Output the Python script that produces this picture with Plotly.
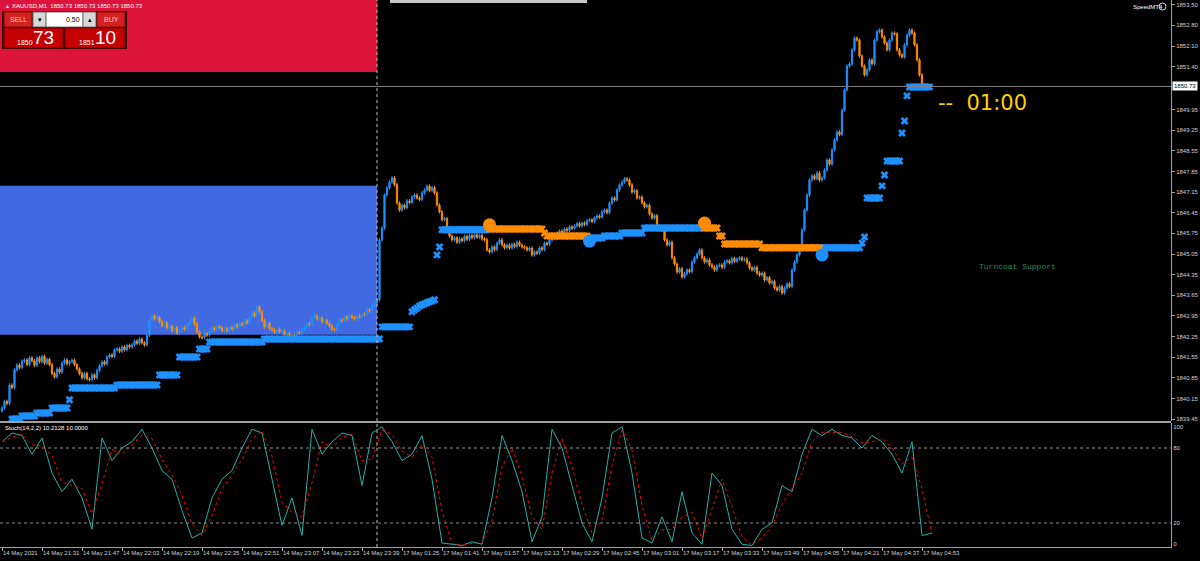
import plotly.graph_objects as go

# ---------------- data ----------------
close = [
 1839.83, 1840.05, 1839.98, 1840.61, 1840.52, 1841.12, 1841.29, 1841.20, 1841.42, 1841.46,
 1841.30, 1841.53, 1841.43, 1841.28, 1841.53, 1841.40, 1841.58, 1841.35, 1841.48, 1841.30,
 1841.00, 1840.88, 1841.15, 1841.05, 1841.35, 1841.46, 1841.33, 1841.40, 1841.45, 1841.30,
 1841.15, 1841.00, 1840.85, 1841.00, 1840.82, 1840.79, 1840.95, 1840.85, 1841.10, 1841.26,
 1841.39, 1841.32, 1841.56, 1841.63, 1841.58, 1841.80, 1841.83, 1841.75, 1841.90, 1841.80,
 1841.95, 1841.90, 1841.97, 1842.10, 1842.02, 1842.17, 1842.04, 1841.97, 1842.30, 1842.80,
 1842.95, 1842.85, 1842.90, 1842.75, 1842.62, 1842.72, 1842.55, 1842.60, 1842.45, 1842.55,
 1842.38, 1842.45, 1842.55, 1842.50, 1842.65, 1842.75, 1842.88, 1842.68, 1842.41, 1842.24,
 1842.21, 1842.35, 1842.30, 1842.44, 1842.55, 1842.48, 1842.60, 1842.55, 1842.45, 1842.52,
 1842.45, 1842.55, 1842.50, 1842.65, 1842.58, 1842.70, 1842.65, 1842.78, 1842.71, 1842.90,
 1843.05, 1842.95, 1843.26, 1843.09, 1842.80, 1842.58, 1842.70, 1842.52, 1842.48, 1842.40,
 1842.50, 1842.41, 1842.45, 1842.30, 1842.36, 1842.21, 1842.30, 1842.27, 1842.40, 1842.36,
 1842.50, 1842.58, 1842.70, 1842.65, 1842.90, 1842.95, 1842.85, 1842.88, 1842.75, 1842.80,
 1842.70, 1842.61, 1842.50, 1842.48, 1842.65, 1842.82, 1842.78, 1842.92, 1842.85, 1842.95,
 1842.90, 1842.85, 1842.95, 1842.92, 1843.02, 1843.00, 1843.16, 1843.12, 1843.29, 1843.39,
 1843.50, 1845.53, 1845.93, 1847.05, 1847.29, 1847.49, 1847.63, 1847.40, 1846.78, 1846.54,
 1846.70, 1846.62, 1846.85, 1846.80, 1846.98, 1847.05, 1846.95, 1846.90, 1847.12, 1847.22,
 1847.35, 1847.20, 1847.30, 1847.12, 1846.71, 1846.48, 1846.21, 1846.25, 1845.93, 1845.66,
 1845.53, 1845.60, 1845.45, 1845.56, 1845.50, 1845.65, 1845.55, 1845.68, 1845.60, 1845.70,
 1845.62, 1845.68, 1845.56, 1845.53, 1845.19, 1845.12, 1845.29, 1845.20, 1845.42, 1845.53,
 1845.36, 1845.26, 1845.35, 1845.25, 1845.38, 1845.30, 1845.45, 1845.35, 1845.29, 1845.26,
 1845.19, 1845.25, 1845.02, 1845.12, 1845.08, 1845.26, 1845.20, 1845.42, 1845.38, 1845.53,
 1845.63, 1845.58, 1845.76, 1845.83, 1845.78, 1845.90, 1845.85, 1845.97, 1845.92, 1846.00,
 1846.08, 1846.00, 1846.10, 1846.05, 1846.18, 1846.21, 1846.15, 1846.27, 1846.34, 1846.30,
 1846.48, 1846.54, 1846.45, 1846.78, 1846.95, 1846.88, 1847.22, 1847.39, 1847.49, 1847.60,
 1847.56, 1847.39, 1847.15, 1847.20, 1846.95, 1846.98, 1846.78, 1846.65, 1846.70, 1846.41,
 1846.27, 1846.35, 1846.00, 1845.87, 1845.95, 1845.53, 1845.36, 1845.45, 1844.92, 1844.71,
 1844.44, 1844.55, 1844.27, 1844.38, 1844.51, 1844.45, 1844.78, 1844.92, 1845.05, 1845.19,
 1844.92, 1844.78, 1844.85, 1844.68, 1844.61, 1844.51, 1844.65, 1844.68, 1844.60, 1844.78,
 1844.82, 1844.75, 1844.90, 1844.80, 1844.88, 1844.92, 1844.85, 1844.88, 1844.75, 1844.58,
 1844.51, 1844.60, 1844.41, 1844.34, 1844.40, 1844.17, 1844.25, 1844.07, 1844.12, 1843.90,
 1843.83, 1843.95, 1843.73, 1843.90, 1844.04, 1843.95, 1844.51, 1844.78, 1845.02, 1845.19,
 1845.87, 1846.54, 1847.05, 1847.56, 1847.70, 1847.60, 1847.80, 1847.56, 1847.63, 1847.90,
 1848.24, 1848.10, 1848.58, 1848.92, 1849.19, 1849.10, 1849.93, 1850.61, 1851.42, 1851.49,
 1851.97, 1852.37, 1852.30, 1851.76, 1851.42, 1851.12, 1851.29, 1851.63, 1851.50, 1852.30,
 1852.58, 1852.64, 1852.41, 1852.20, 1851.97, 1852.30, 1852.54, 1852.51, 1851.97, 1851.80,
 1851.73, 1852.14, 1852.47, 1852.64, 1852.54, 1852.14, 1851.63, 1851.12, 1850.78, 1850.71,
 1850.75, 1850.73,
]

# trailing-stop levels: (first bar, last bar, price)
blue_stop = [
 (4, 7, 1839.46), (8, 13, 1839.56), (14, 19, 1839.66), (20, 26, 1839.83), (27, 27, 1840.11),
 (28, 45, 1840.51), (46, 62, 1840.61), (63, 70, 1840.95), (71, 78, 1841.56), (79, 82, 1841.83),
 (83, 104, 1842.07), (105, 151, 1842.17), (152, 163, 1842.58),
 (164, 164, 1843.09), (165, 165, 1843.16), (166, 166, 1843.22), (167, 167, 1843.29),
 (168, 168, 1843.33), (169, 169, 1843.36), (170, 170, 1843.40), (171, 171, 1843.43),
 (172, 172, 1843.46), (173, 173, 1843.50), (174, 174, 1845.02), (175, 175, 1845.29),
 (176, 194, 1845.87),
 (235, 240, 1845.59), (241, 247, 1845.66), (248, 256, 1845.76), (257, 280, 1845.93),
 (328, 343, 1845.26), (344, 344, 1845.42), (345, 345, 1845.63), (346, 351, 1846.95),
 (352, 352, 1847.36), (353, 353, 1847.73), (354, 359, 1848.20), (360, 360, 1849.15),
 (361, 361, 1849.56), (362, 362, 1850.41), (363, 371, 1850.71),
]
orange_stop = [
 (195, 216, 1845.90), (217, 217, 1845.76), (218, 234, 1845.66),
 (281, 286, 1845.93), (287, 288, 1845.66), (289, 303, 1845.39), (304, 327, 1845.26),
]
flip_bars = [195, 235, 281, 328]
flip_price = [1846.04, 1845.49, 1846.10, 1845.02]
flip_side = ["sell", "buy", "sell", "buy"]

# Stochastic main line, sampled every 4 bars
stoch_main = [
 85, 92, 90, 75, 88, 60, 45, 55, 40, 15,
 88, 70, 80, 85, 95, 80, 62, 55, 30, 8,
 12, 40, 55, 62, 80, 95, 92, 55, 18, 40,
 10, 95, 75, 85, 92, 90, 50, 92, 97, 85,
 70, 75, 90, 55, 4, 3, 2, 5, 3, 40,
 90, 70, 45, 5, 25, 95, 80, 50, 20, 5,
 40, 92, 97, 60, 8, 4, 25, 5, 45, 12,
 3, 60, 50, 15, 3, 2, 15, 20, 50, 45,
 75, 95, 90, 95, 90, 88, 80, 90, 85, 75,
 60, 85, 10, 12,
]
STOCH_STEP = 4

time_labels = [
 "14 May 2021", "14 May 21:31", "14 May 21:47", "14 May 22:03", "14 May 22:19",
 "14 May 22:35", "14 May 22:51", "14 May 23:07", "14 May 23:23", "14 May 23:39",
 "17 May 01:25", "17 May 01:41", "17 May 01:57", "17 May 02:13", "17 May 02:29",
 "17 May 02:45", "17 May 03:01", "17 May 03:17", "17 May 03:33", "17 May 03:49",
 "17 May 04:05", "17 May 04:21", "17 May 04:37", "17 May 04:53",
]
LABEL_EVERY = 16
price_ticks = [1853.50, 1852.80, 1852.10, 1851.40, 1849.95, 1849.25, 1848.55, 1847.85,
               1847.15, 1846.45, 1845.75, 1845.05, 1844.35, 1843.65, 1842.95, 1842.25,
               1841.55, 1840.85, 1840.15, 1839.45]
last_price = 1850.73
bid_big, bid_small = "73", "1850"
ask_big, ask_small = "10", "1851"
lot = "0.50"
sell_zone = (1851.22, 1853.66)
buy_zone = (1842.31, 1847.36)
separator_bar = 150

# ---------------- styling ----------------
BULL = "#1E90FF"
BEAR = "#FF8C00"
AXC = "#A0A0A0"
TXT = "#D0D0D0"
FONT = "Liberation Sans"
W, H = 1171.0, 547.0


def px(x):
    return x / W


def py(y):
    return 1 - y / H


n = len(close)
xs = list(range(n))
opens = [close[0] - 0.1] + close[:-1]
highs = [max(o, c) + 0.06 for o, c in zip(opens, close)]
lows = [min(o, c) - 0.06 for o, c in zip(opens, close)]

fig = go.Figure()

fig.add_trace(go.Candlestick(
    x=xs, open=opens, high=highs, low=lows, close=close,
    increasing=dict(line=dict(color=BULL, width=1), fillcolor=BULL),
    decreasing=dict(line=dict(color=BEAR, width=1), fillcolor=BEAR),
    whiskerwidth=0, hoverinfo="skip", showlegend=False, xaxis="x", yaxis="y"))


def expand(segs):
    bx, by = [], []
    for a, b, p in segs:
        for i in range(a, b + 1):
            bx.append(i)
            by.append(p)
    return bx, by


for segs, col in ((blue_stop, BULL), (orange_stop, BEAR)):
    bx, by = expand(segs)
    fig.add_trace(go.Scatter(x=bx, y=by, mode="markers",
                             marker=dict(symbol="x", size=7, color=col, line=dict(width=0)),
                             hoverinfo="skip", showlegend=False, xaxis="x", yaxis="y"))

fig.add_trace(go.Scatter(
    x=flip_bars, y=flip_price, mode="markers",
    marker=dict(symbol="circle", size=13,
                color=[BEAR if s == "sell" else BULL for s in flip_side]),
    hoverinfo="skip", showlegend=False, xaxis="x", yaxis="y"))

# stochastic
sx = [i * STOCH_STEP for i in range(len(stoch_main))]
sig = [stoch_main[0]] + [(stoch_main[i] + stoch_main[i - 1]) / 2 for i in range(1, len(stoch_main))]
fig.add_trace(go.Scatter(x=sx, y=stoch_main, mode="lines", line=dict(color="#20B2AA", width=1),
                         hoverinfo="skip", showlegend=False, xaxis="x", yaxis="y2"))
fig.add_trace(go.Scatter(x=sx, y=sig, mode="lines", line=dict(color="#FF0000", width=1, dash="dot"),
                         hoverinfo="skip", showlegend=False, xaxis="x", yaxis="y2"))

shapes = []
# zones
shapes.append(dict(type="rect", xref="x", yref="y", x0=-2, x1=separator_bar,
                   y0=sell_zone[0], y1=sell_zone[1] + 1, fillcolor="#DC143C",
                   line=dict(width=0), layer="below"))
shapes.append(dict(type="rect", xref="x", yref="y", x0=-2, x1=separator_bar,
                   y0=buy_zone[0], y1=buy_zone[1], fillcolor="#4169E1",
                   line=dict(width=0), layer="below"))
# current price line
shapes.append(dict(type="line", xref="paper", yref="y", x0=0, x1=1, y0=last_price, y1=last_price,
                   line=dict(color="#808080", width=1)))
# day separator
shapes.append(dict(type="line", xref="x", yref="paper", x0=separator_bar, x1=separator_bar,
                   y0=0, y1=1, line=dict(color="#C0C0C0", width=1, dash="dot")))
# stoch levels
for lv in (80, 20):
    shapes.append(dict(type="line", xref="paper", yref="y2", x0=0, x1=1, y0=lv, y1=lv,
                       line=dict(color="#909090", width=1, dash="dot")))
# panel separator
shapes.append(dict(type="line", xref="paper", yref="paper", x0=0, x1=1, y0=py(422), y1=py(422),
                   line=dict(color=AXC, width=2)))
# top scroll bar
shapes.append(dict(type="rect", xref="paper", yref="paper", x0=px(390), x1=px(587),
                   y0=py(3), y1=py(0), fillcolor="#C8C8C8", line=dict(width=0)))


def rect(x0, y0, x1, y1, fill, line=None):
    shapes.append(dict(type="rect", xref="paper", yref="paper", x0=px(x0), x1=px(x1),
                       y0=py(y1), y1=py(y0), fillcolor=fill,
                       line=dict(width=1 if line else 0, color=line or fill)))


# one-click trading panel
rect(2, 11, 127, 49, "#2a0000")
rect(4, 12, 32, 27, "#D42020", "#8a0000")
rect(33, 12, 46, 27, "#D8D8D8", "#707070")
rect(46, 12, 83, 27, "#FFFFFF", "#707070")
rect(83, 12, 96, 27, "#D8D8D8", "#707070")
rect(97, 12, 125, 27, "#D42020", "#8a0000")
rect(4, 28, 63, 48, "#C40000", "#700000")
rect(65, 28, 125, 48, "#C40000", "#700000")
shapes.append(dict(type="circle", xref="paper", yref="paper", x0=px(1159), x1=px(1166),
                   y0=py(10), y1=py(3), line=dict(color="#E0E0E0", width=1)))

ann = []


def text(x, y, s, size, color="#FFFFFF", anchor="left", family=FONT):
    ann.append(dict(xref="paper", yref="paper", x=px(x), y=py(y), text=s, showarrow=False,
                    xanchor=anchor, yanchor="middle",
                    font=dict(family=family, size=size, color=color)))


text(3, 6, "▲", 5)
text(10, 6, "XAUUSD,M1  %s %s %s %s" % (last_price, last_price, last_price, last_price), 6)
text(18, 19.5, "SELL", 7, "#F4D0D0", "center")
text(111, 19.5, "BUY", 7, "#F4D0D0", "center")
text(39.5, 19.5, "▾", 7, "#000000", "center")
text(89.5, 19.5, "▴", 7, "#000000", "center")
text(82, 19.5, lot, 7, "#000000", "right")
text(15, 42, bid_small, 7)
text(44, 37.5, bid_big, 19, "#FFFFFF", "center")
text(77, 42, ask_small, 7)
text(105, 37.5, ask_big, 19, "#FFFFFF", "center")
text(1131, 6.5, "SpeedMT4", 6)
text(3, 428, "Stoch(14,2,2) 10.2128 10.0000", 6)
text(977, 266, "Turncoat Support", 8, "#2E8B57", "left", "Liberation Mono")
text(936, 103, "--  01:00", 21, "#FFD000", "left", "DejaVu Sans")

ann.append(dict(xref="paper", yref="y", x=1, y=last_price, text=str(last_price), showarrow=False,
                xanchor="left", yanchor="middle", xshift=1, bgcolor="#FFFFFF", borderpad=1,
                font=dict(family=FONT, size=6, color="#000000")))

fig.update_layout(
    width=1200, height=561,
    margin=dict(l=0, r=29, t=0, b=14, autoexpand=False),
    paper_bgcolor="#000000", plot_bgcolor="#000000",
    showlegend=False,
    shapes=shapes, annotations=ann,
    xaxis=dict(domain=[0, 1], range=[-0.8, 467.6], anchor="y2", showgrid=False, zeroline=False,
               showline=True, linecolor=AXC, linewidth=1, ticks="outside", ticklen=3,
               tickcolor=AXC, tickvals=[i * LABEL_EVERY for i in range(len(time_labels))],
               ticktext=time_labels, ticklabelposition="outside right", tickangle=0,
               tickfont=dict(family=FONT, size=6, color=TXT),
               rangeslider=dict(visible=False), fixedrange=True),
    yaxis=dict(domain=[py(421), 1], range=[1839.39, 1853.66], side="right", anchor="x",
               showgrid=False, zeroline=False, showline=True, linecolor=AXC, ticks="outside",
               ticklen=3, tickcolor=AXC, tickvals=price_ticks,
               ticktext=["%.2f" % v for v in price_ticks],
               tickfont=dict(family=FONT, size=6, color=TXT), fixedrange=True),
    yaxis2=dict(domain=[0, py(423)], range=[0.8, 100], side="right", anchor="x",
                showgrid=False, zeroline=False, showline=True, linecolor=AXC, ticks="",
                tickvals=[96.8, 80, 20, 3.2], ticktext=["100", "80", "20", "0"],
                tickfont=dict(family=FONT, size=6, color=TXT), fixedrange=True),
)

fig.write_html("out.html", config={"displayModeBar": False},
               post_script="document.body.style.margin='0';document.body.style.overflow='hidden';")
